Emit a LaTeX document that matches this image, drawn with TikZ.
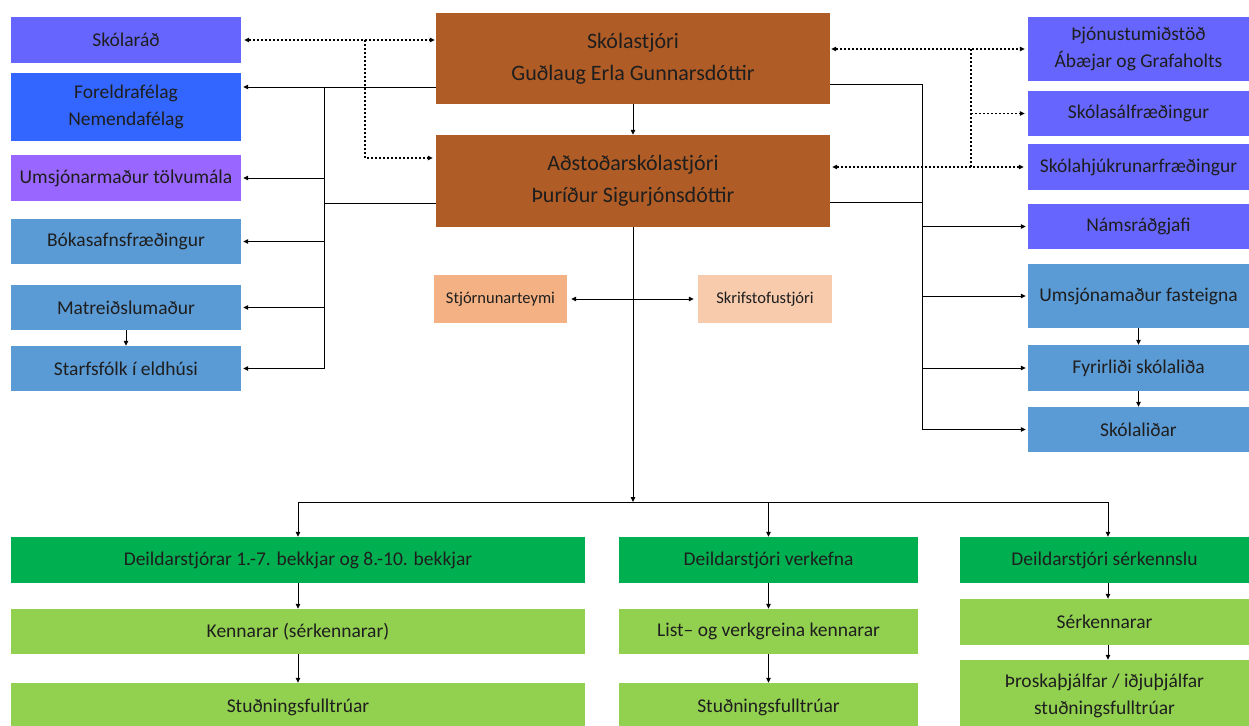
\documentclass[tikz,border=0pt]{standalone}
\usepackage{fontspec}
\setmainfont{Carlito}
\usetikzlibrary{arrows.meta}
\definecolor{cBrown}{HTML}{B05C26}
\definecolor{cViolet}{HTML}{6666FF}
\definecolor{cBlue}{HTML}{3366FF}
\definecolor{cPurple}{HTML}{9966FF}
\definecolor{cSky}{HTML}{5B9BD5}
\definecolor{cPeach}{HTML}{F4B183}
\definecolor{cPeachL}{HTML}{F8CBAD}
\definecolor{cGreen}{HTML}{00B050}
\definecolor{cLime}{HTML}{92D050}
\definecolor{cText}{HTML}{1E1E1E}
\begin{document}
\begin{tikzpicture}[x=1pt,y=-1pt,
  box/.style={rectangle, inner sep=0pt, align=center, text=cText, font=\fontsize{19.5}{27.5}\selectfont},
  bigbox/.style={box, fill=cBrown, minimum width=394pt, minimum height=92pt, font=\fontsize{22}{32}\selectfont},
  lbox/.style={box, minimum width=230pt},
  rbox/.style={box, minimum width=221pt},
  smallbox/.style={box, minimum width=133pt, minimum height=48pt, font=\fontsize{16.5}{20}\selectfont},
  conn/.style={line width=1pt, black},
  tipA/.tip={Triangle[length=5pt,width=4.5pt]},
  arr/.style={conn, -tipA, shorten >=2pt},
  arrz/.style={conn, -tipA},
  dots/.style={line width=1.8pt, black, dash pattern=on 1.8pt off 2.2pt},
]
\useasboundingbox (0,0) rectangle (1249,725);

% ---- left column
\node[lbox, fill=cViolet, minimum height=46pt] (skolarad) at (126,40) {Skólaráð};
\node[lbox, fill=cBlue, minimum height=68pt] (foreldra) at (126,107) {Foreldrafélag\\Nemendafélag};
\node[lbox, fill=cPurple, minimum height=46pt] (tolvu) at (126,178) {Umsjónarmaður tölvumála};
\node[lbox, fill=cSky, minimum height=45pt] (boka) at (126,241.5) {Bókasafnsfræðingur};
\node[lbox, fill=cSky, minimum height=45pt] (matreid) at (126,307.5) {Matreiðslumaður};
\node[lbox, fill=cSky, minimum height=45pt] (starfs) at (126,368.5) {Starfsfólk í eldhúsi};

% ---- centre
\node[bigbox, minimum height=91pt] (skolastjori) at (633,58.5) {Skólastjóri\\Guðlaug Erla Gunnarsdóttir};
\node[bigbox] (adstodar) at (633,181) {Aðstoðarskólastjóri\\Þuríður Sigurjónsdóttir};
\node[smallbox, fill=cPeach] (stjorn) at (500.5,299) {Stjórnunarteymi};
\node[smallbox, fill=cPeachL, minimum width=134pt] (skrif) at (765,299) {Skrifstofustjóri};

% ---- right column
\node[rbox, fill=cViolet, minimum height=64pt] (thjon) at (1138.5,49) {Þjónustumiðstöð\\Ábæjar og Grafaholts};
\node[rbox, fill=cViolet, minimum height=45pt] (salfr) at (1138.5,113.5) {Skólasálfræðingur};
\node[rbox, fill=cViolet, minimum height=46pt] (hjukr) at (1138.5,167) {Skólahjúkrunarfræðingur};
\node[rbox, fill=cViolet, minimum height=45pt] (nams) at (1138.5,226.5) {Námsráðgjafi};
\node[rbox, fill=cSky, minimum height=64pt] (fasteign) at (1138.5,296) {Umsjónamaður fasteigna};
\node[rbox, fill=cSky, minimum height=46pt] (fyrirl) at (1138.5,368) {Fyrirliði skólaliða};
\node[rbox, fill=cSky, minimum height=45pt] (skolalid) at (1138.5,429.5) {Skólaliðar};

% ---- bottom
\node[box, fill=cGreen, minimum width=574pt, minimum height=46pt] (d1) at (298,560) {Deildarstjórar 1.-7. bekkjar og 8.-10. bekkjar};
\node[box, fill=cLime, minimum width=574pt, minimum height=45pt] (k1) at (298,631.5) {Kennarar (sérkennarar)};
\node[box, fill=cLime, minimum width=574pt, minimum height=48pt] (s1) at (298,707) {Stuðningsfulltrúar};

\node[box, fill=cGreen, minimum width=299pt, minimum height=46pt] (d2) at (768.5,560) {Deildarstjóri verkefna};
\node[box, fill=cLime, minimum width=299pt, minimum height=45pt] (k2) at (768.5,631.5) {List– og verkgreina kennarar};
\node[box, fill=cLime, minimum width=299pt, minimum height=48pt] (s2) at (768.5,707) {Stuðningsfulltrúar};

\node[box, fill=cGreen, minimum width=289pt, minimum height=46pt] (d3) at (1104.5,560) {Deildarstjóri sérkennslu};
\node[box, fill=cLime, minimum width=289pt, minimum height=46pt] (sk3) at (1104.5,622) {Sérkennarar};
\node[box, fill=cLime, minimum width=289pt, minimum height=72pt] (th3) at (1104.5,696) {Þroskaþjálfar / iðjuþjálfar\\stuðningsfulltrúar};

% ---- helper coordinates
\coordinate (busL) at (324,87);
\coordinate (yA) at (0,203);
\coordinate (dL) at (365,40);
\coordinate (dLb) at (365,158);
\coordinate (busR) at (922,84);
\coordinate (yB) at (0,202);
\coordinate (dR) at (971,49);
\coordinate (hub) at (633,502);
\coordinate (c3) at (1108,0);

% ---- left connectors
\draw[dots, tipA-tipA, shorten <=3pt, shorten >=1pt] (skolarad.east) -- (skolastjori.west |- skolarad.east);
\draw[dots, -tipA, shorten >=3pt] (dL) -- (dLb) -- (adstodar.west |- dLb);
\draw[arr] (skolastjori.west |- busL) -- (foreldra.east |- busL);
\draw[conn] (busL) -- (busL |- starfs.east);
\draw[conn] (adstodar.west |- yA) -- (busL |- yA);
\draw[arr] (busL |- tolvu.east) -- (tolvu.east);
\draw[arr] (busL |- boka.east) -- (boka.east);
\draw[arr] (busL |- matreid.east) -- (matreid.east);
\draw[arr] (busL |- starfs.east) -- (starfs.east);
\draw[arrz] (matreid.south) -- (starfs.north);

% ---- right connectors
\draw[dots, tipA-tipA, shorten <=1pt, shorten >=3pt] (skolastjori.east |- thjon.west) -- (thjon.west);
\draw[dots] (dR) -- (dR |- hjukr.west);
\draw[dots, -tipA, shorten >=3pt] (dR |- salfr.west) -- (salfr.west);
\draw[dots, tipA-tipA, shorten <=2pt, shorten >=4pt] (adstodar.east |- hjukr.west) -- (hjukr.west);
\draw[conn] (skolastjori.east |- busR) -- (busR) -- (busR |- skolalid.west);
\draw[conn] (adstodar.east |- yB) -- (busR |- yB);
\draw[arr] (busR |- nams.west) -- (nams.west);
\draw[arr] (busR |- fasteign.west) -- (fasteign.west);
\draw[arr] (busR |- fyrirl.west) -- (fyrirl.west);
\draw[arr] (busR |- skolalid.west) -- (skolalid.west);
\draw[arrz] (fasteign.south) -- (fyrirl.north);
\draw[arrz] (fyrirl.south) -- (skolalid.north);

% ---- centre connectors
\draw[arrz] (skolastjori.south) -- (adstodar.north);
\draw[arrz] (adstodar.south) -- (hub);
\draw[conn, tipA-tipA, shorten <=4pt, shorten >=4pt] (stjorn.east) -- (skrif.west);
\draw[conn] (hub -| d1.north) -- (hub -| c3);
\draw[arrz] (hub -| d1.north) -- (d1.north);
\draw[arrz] (hub -| d2.north) -- (d2.north);
\draw[arrz] (hub -| c3) -- (d3.north -| c3);

% ---- bottom connectors
\draw[arrz] (d1.south) -- (k1.north);
\draw[arrz] (k1.south) -- (s1.north);
\draw[arrz] (d2.south) -- (k2.north);
\draw[arrz] (k2.south) -- (s2.north);
\draw[arrz] (d3.south -| c3) -- (sk3.north -| c3);
\draw[arrz] (sk3.south -| c3) -- (th3.north -| c3);
\end{tikzpicture}
\end{document}
